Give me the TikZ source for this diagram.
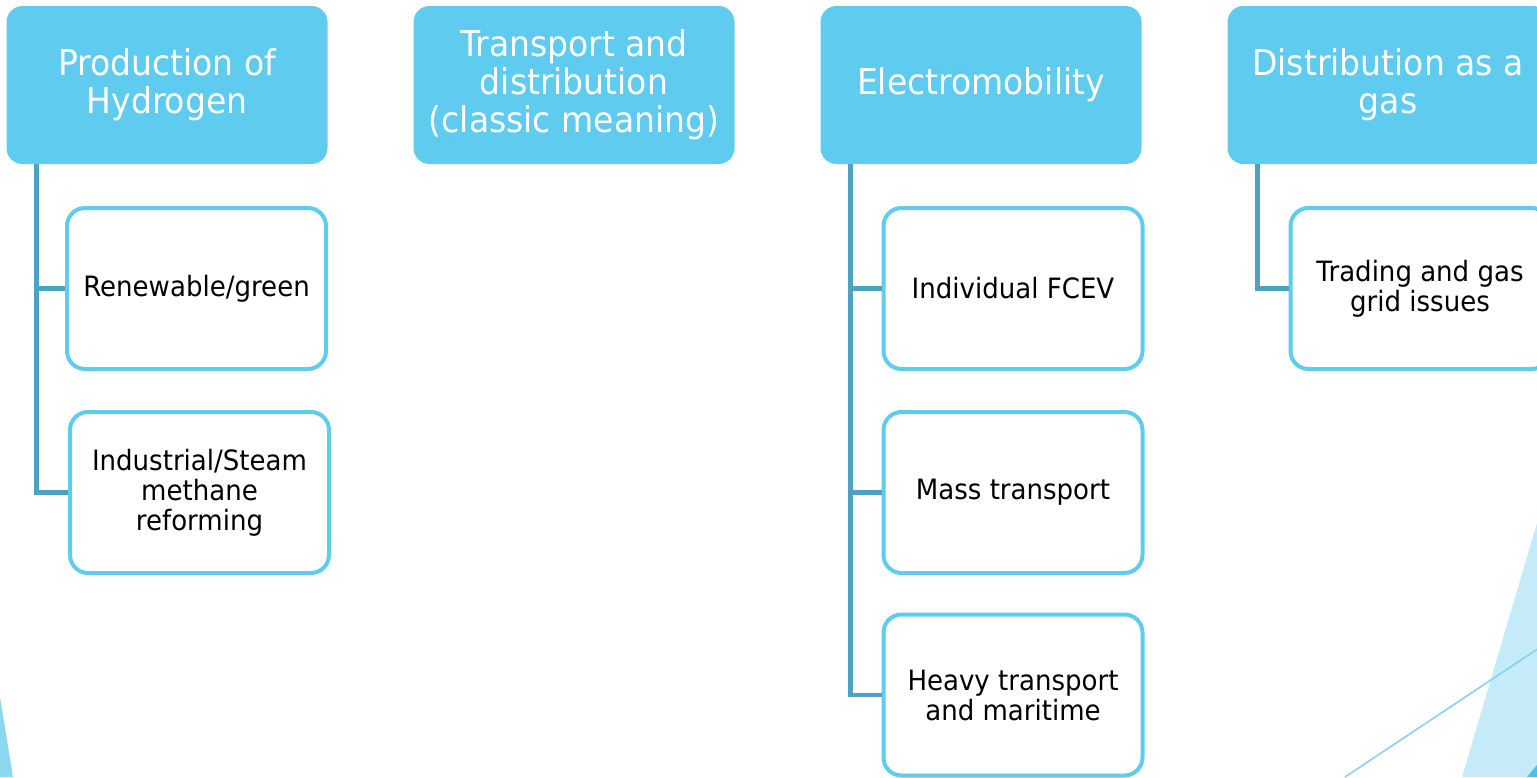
\documentclass[tikz,border=0pt]{standalone}
\usepackage{fontspec}
\setmainfont{DejaVu Sans}[FakeStretch=0.93]
\definecolor{hdrblue}{RGB}{95,203,239}
\definecolor{boxline}{RGB}{95,203,239}
\definecolor{connblue}{RGB}{76,162,192}
\definecolor{decolight}{RGB}{198,235,248}
\definecolor{decomid}{RGB}{140,215,240}
\definecolor{decodark}{RGB}{80,190,235}
\definecolor{decoline}{RGB}{130,210,238}
\tikzset{
  hdr/.style={rounded corners=16pt, fill=hdrblue, text=white, minimum width=321pt, minimum height=158pt, align=center, inner sep=0pt, font=\fontsize{35.5}{38}\selectfont},
  sub/.style={rounded corners=18pt, draw=boxline, line width=4pt, fill=white, text=black, minimum width=259pt, minimum height=161pt, align=center, inner sep=0pt, font=\fontsize{28}{30}\selectfont},
  conn/.style={draw=connblue, line width=4.5pt}
}
\begin{document}
\begin{tikzpicture}[x=1pt,y=-1pt]
\useasboundingbox (0,0) rectangle (1537,777);
\begin{scope}
\clip (0,0) rectangle (1537,777);
% decorations
\fill[decolight] (1537,523) -- (1462,777) -- (1537,777) -- cycle;
\fill[decodark] (1527,777) -- (1537,765) -- (1537,777) -- cycle;
\draw[decoline, line width=1.5pt] (1345,777) -- (1545,644);
\fill[decomid] (0,697) -- (13,777) -- (0,777) -- cycle;
% headers
\node[hdr] (h1) at (167,85) {Production of\\Hydrogen};
\node[hdr] (h2) at (574,85) {Transport and\\distribution\\(classic meaning)};
\node[hdr] (h3) at (981,85) {Electromobility};
\node[hdr] (h4) at (1388,85) {Distribution as a\\gas};
% sub boxes
\node[sub] (p1) at (196.5,288.5) {Renewable/green};
\node[sub] (p2) at (199.5,492.5) {Industrial/Steam\\methane\\reforming};
\node[sub] (e1) at (1013,288.5) {Individual FCEV};
\node[sub] (e2) at (1013,492.5) {Mass transport};
\node[sub] (e3) at (1013,695) {Heavy transport\\and maritime};
\node[sub] (d1) at (1420,288.5) {Trading and gas\\grid issues};
% trunk starts
\coordinate (t1) at ([xshift=30pt]h1.south west);
\coordinate (t3) at ([xshift=30pt]h3.south west);
\coordinate (t4) at ([xshift=30pt]h4.south west);
% connectors
\draw[conn] (t1) |- (p1.west);
\draw[conn] (t1) |- (p2.west);
\draw[conn] (t3) |- (e1.west);
\draw[conn] (t3) |- (e2.west);
\draw[conn] (t3) |- (e3.west);
\draw[conn] (t4) |- (d1.west);
\end{scope}
\end{tikzpicture}
\end{document}
